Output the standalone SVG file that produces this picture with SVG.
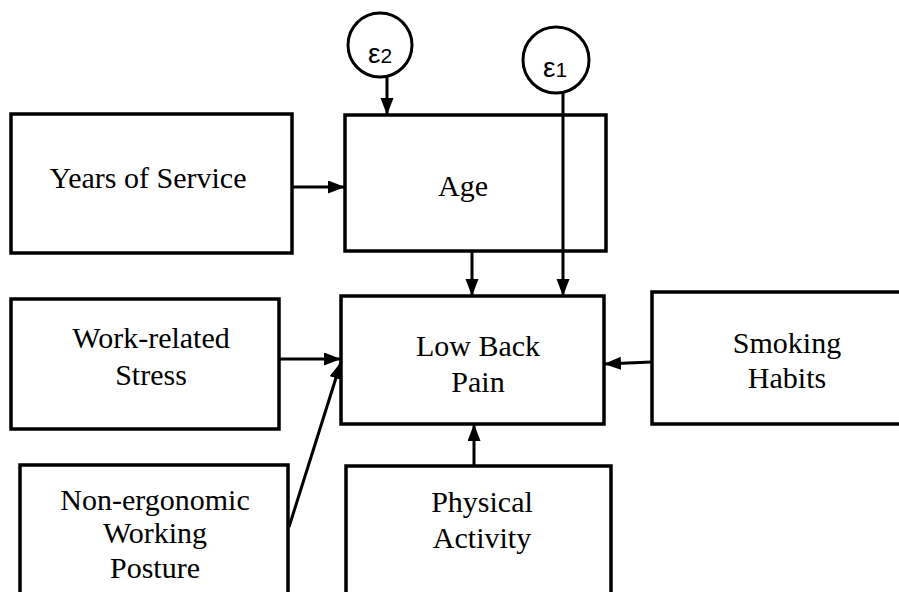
<svg xmlns="http://www.w3.org/2000/svg" width="899" height="592" viewBox="0 0 899 592">
<style>
.box{fill:#fff;stroke:#000;stroke-width:3.5}
.circ{fill:#fff;stroke:#000;stroke-width:3}
.t{font-family:"Liberation Serif","DejaVu Serif",serif;font-size:30px;fill:#000;text-anchor:middle}
.e{font-family:"Liberation Sans","DejaVu Sans",sans-serif;font-size:28px;fill:#000;text-anchor:middle}
.c{stroke:#000;stroke-width:3;fill:none;marker-end:url(#ah)}
</style>
<defs>
<marker id="ah" markerUnits="userSpaceOnUse" markerWidth="18" markerHeight="14" refX="17" refY="6.5" orient="auto">
<path d="M0,0 L17,6.5 L0,13 z" fill="#000"/>
</marker>
</defs>
<rect width="899" height="592" fill="#fff"/>
<g id="e2">
<circle class="circ" cx="380" cy="45" r="32"/>
<text class="e" x="380" y="63">ε<tspan font-size="21">2</tspan></text>
</g>
<g id="e1">
<circle class="circ" cx="556" cy="60" r="33"/>
<text class="e" x="555" y="77">ε<tspan font-size="21">1</tspan></text>
</g>
<g id="years">
<rect class="box" x="11" y="114" width="281" height="139"/>
<text class="t" x="148" y="188">Years of Service</text>
</g>
<g id="age">
<rect class="box" x="345" y="115" width="261" height="136"/>
<text class="t" x="463" y="196">Age</text>
</g>
<g id="lbp">
<rect class="box" x="341" y="296" width="263" height="128"/>
<text class="t" x="478" y="356">Low Back</text>
<text class="t" x="478" y="392">Pain</text>
</g>
<g id="stress">
<rect class="box" x="11" y="299" width="268" height="130"/>
<text class="t" x="151" y="348">Work-related</text>
<text class="t" x="151" y="385">Stress</text>
</g>
<g id="smoking">
<rect class="box" x="652" y="292" width="260" height="132"/>
<text class="t" x="787" y="353">Smoking</text>
<text class="t" x="787" y="388">Habits</text>
</g>
<g id="posture">
<rect class="box" x="20" y="465" width="268" height="140"/>
<text class="t" x="155" y="510">Non-ergonomic</text>
<text class="t" x="155" y="543">Working</text>
<text class="t" x="155" y="578">Posture</text>
</g>
<g id="physical">
<rect class="box" x="346" y="466" width="265" height="140"/>
<text class="t" x="482" y="512">Physical</text>
<text class="t" x="482" y="548">Activity</text>
</g>
<g id="connectors">
<line class="c" x1="387" y1="77" x2="387" y2="115"/>
<line class="c" x1="563" y1="93" x2="563" y2="296"/>
<line class="c" x1="292" y1="187" x2="345" y2="187"/>
<line class="c" x1="472" y1="251" x2="472" y2="296"/>
<line class="c" x1="279" y1="359" x2="341" y2="359"/>
<line class="c" x1="289" y1="527" x2="341" y2="362"/>
<line class="c" x1="652" y1="362" x2="604" y2="364"/>
<line class="c" x1="474" y1="466" x2="474" y2="424"/>
</g>
</svg>
